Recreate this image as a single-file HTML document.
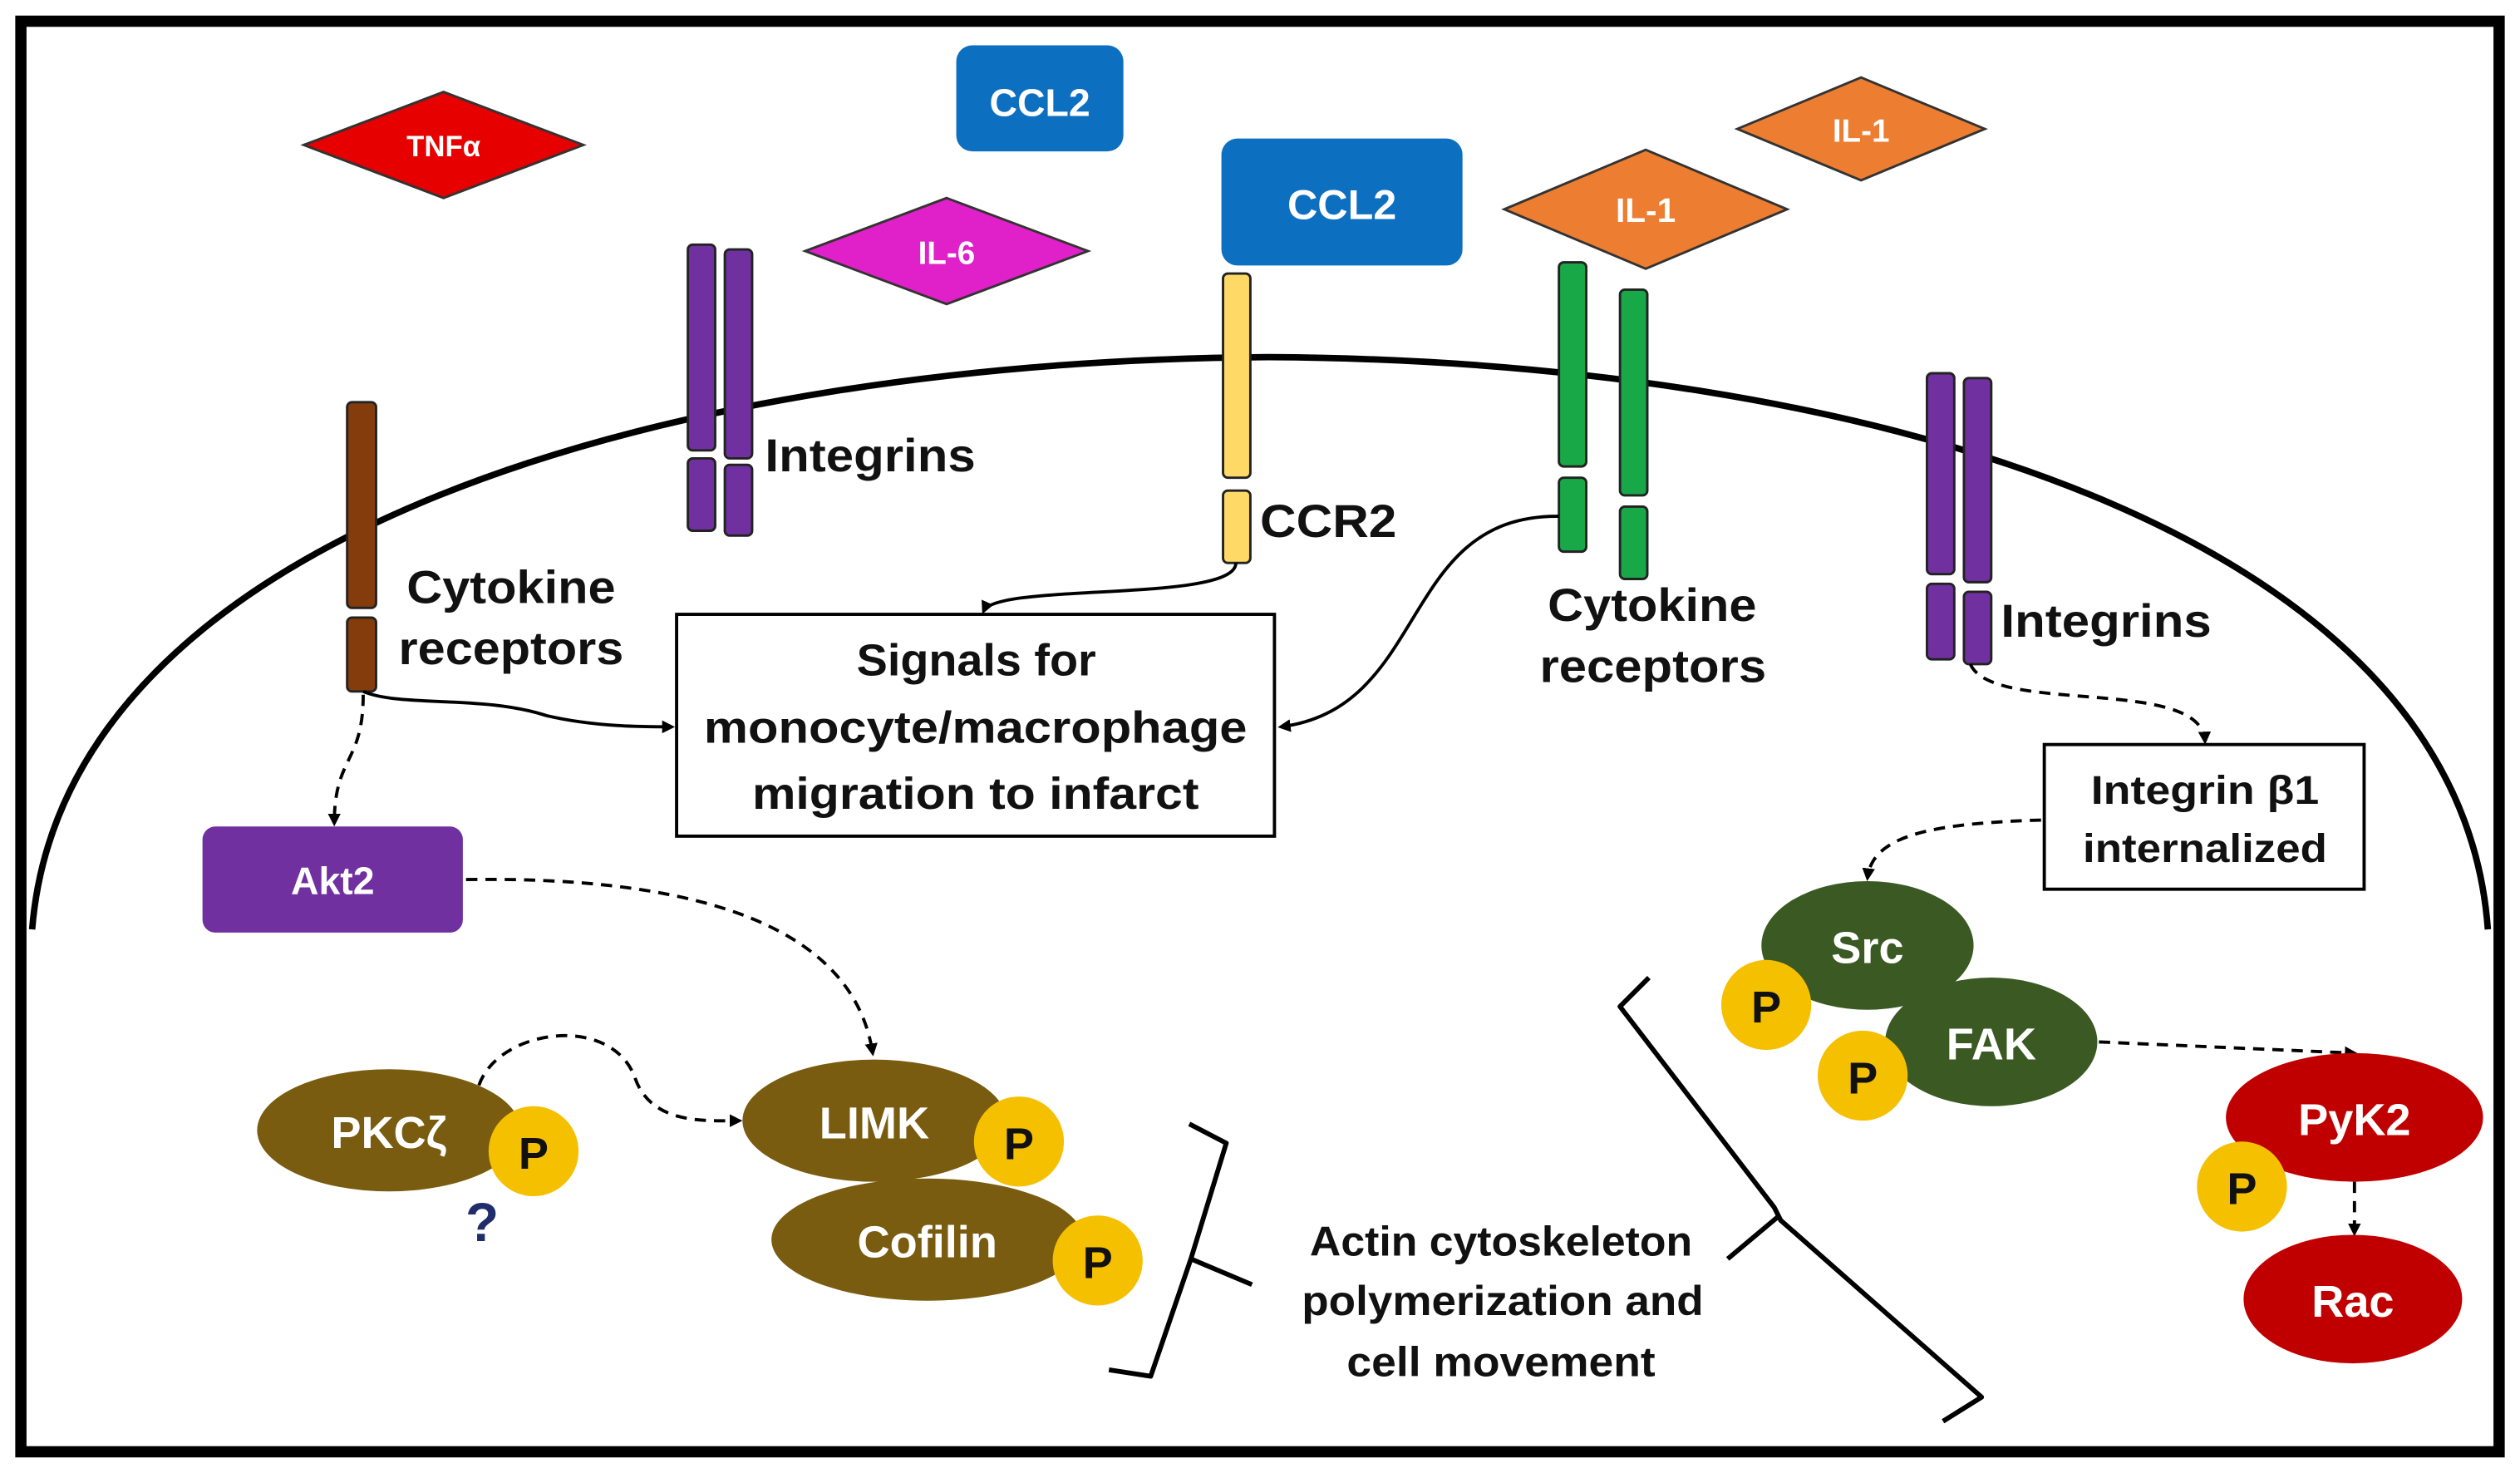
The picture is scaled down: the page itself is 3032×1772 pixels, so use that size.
<!DOCTYPE html>
<html><head><meta charset="utf-8"><style>
html,body{margin:0;padding:0;background:#fff;}
svg{display:block;}
text{font-family:"Liberation Sans",sans-serif;font-weight:bold;}
</style></head><body>
<svg width="3032" height="1772" viewBox="0 0 1568 916" xmlns="http://www.w3.org/2000/svg">
<defs>
<marker id="a" markerWidth="8" markerHeight="8" refX="6" refY="4" orient="auto" markerUnits="userSpaceOnUse"><path d="M0,0 L8,4 L0,8 Z" fill="#000"/></marker>
</defs>
<rect x="0" y="0" width="1568" height="916" fill="#fff"/>
<rect x="13" y="13" width="1542" height="890" fill="none" stroke="#000" stroke-width="7"/>
<path d="M20,578 C40,330 420,224 790,222 C1160,224 1530,330 1548,578" fill="none" stroke="#000" stroke-width="4"/>

<polygon points="189,90 276,57 363,90 276,123" fill="#e60000" stroke="#333" stroke-width="1.5"/>
<text x="276" y="97" font-size="18" fill="#fff" text-anchor="middle">TNFα</text>
<rect x="595" y="28" width="104" height="66" rx="10" fill="#0d6fc0"/>
<text x="647" y="72" font-size="24" fill="#fff" text-anchor="middle">CCL2</text>
<polygon points="501,156 589,123 677,156 589,189" fill="#e020c8" stroke="#333" stroke-width="1.5"/>
<text x="589" y="164" font-size="20" fill="#fff" text-anchor="middle">IL-6</text>
<rect x="760" y="86" width="150" height="79" rx="10" fill="#0d6fc0"/>
<text x="835" y="136" font-size="26" fill="#fff" text-anchor="middle">CCL2</text>
<polygon points="936,130 1024,93 1112,130 1024,167" fill="#ed7d31" stroke="#333" stroke-width="1.5"/>
<text x="1024" y="138" font-size="21" fill="#fff" text-anchor="middle">IL-1</text>
<polygon points="1081,80 1158,48 1235,80 1158,112" fill="#ed7d31" stroke="#333" stroke-width="1.5"/>
<text x="1158" y="88" font-size="20" fill="#fff" text-anchor="middle">IL-1</text>

<g stroke="#222" stroke-width="1.5">
<rect x="428" y="152" width="17" height="128" rx="3" fill="#7030a0"/>
<rect x="428" y="285" width="17" height="45" rx="3" fill="#7030a0"/>
<rect x="451" y="155" width="17" height="130" rx="3" fill="#7030a0"/>
<rect x="451" y="289" width="17" height="44" rx="3" fill="#7030a0"/>
<rect x="216" y="250" width="18" height="128" rx="3" fill="#843c0c"/>
<rect x="216" y="384" width="18" height="46" rx="3" fill="#843c0c"/>
<rect x="761" y="170" width="17" height="127" rx="3" fill="#ffd966"/>
<rect x="761" y="305" width="17" height="45" rx="3" fill="#ffd966"/>
<rect x="970" y="163" width="17" height="127" rx="3" fill="#18a848"/>
<rect x="970" y="297" width="17" height="46" rx="3" fill="#18a848"/>
<rect x="1008" y="180" width="17" height="128" rx="3" fill="#18a848"/>
<rect x="1008" y="315" width="17" height="45" rx="3" fill="#18a848"/>
<rect x="1199" y="232" width="17" height="125" rx="3" fill="#7030a0"/>
<rect x="1199" y="363" width="17" height="47" rx="3" fill="#7030a0"/>
<rect x="1222" y="235" width="17" height="127" rx="3" fill="#7030a0"/>
<rect x="1222" y="368" width="17" height="45" rx="3" fill="#7030a0"/>
</g>

<g font-size="29" fill="#111">
<text x="476" y="293" textLength="131" lengthAdjust="spacingAndGlyphs">Integrins</text>
<text x="784" y="334" textLength="85" lengthAdjust="spacingAndGlyphs">CCR2</text>
<text x="253" y="375" textLength="130" lengthAdjust="spacingAndGlyphs">Cytokine</text>
<text x="248" y="413" textLength="140" lengthAdjust="spacingAndGlyphs">receptors</text>
<text x="963" y="386" textLength="130" lengthAdjust="spacingAndGlyphs">Cytokine</text>
<text x="958" y="424" textLength="141" lengthAdjust="spacingAndGlyphs">receptors</text>
<text x="1245" y="396" textLength="131" lengthAdjust="spacingAndGlyphs">Integrins</text>
</g>

<rect x="421" y="382" width="372" height="138" fill="#fff" stroke="#000" stroke-width="2"/>
<g font-size="28" fill="#111">
<text x="533" y="420" textLength="149" lengthAdjust="spacingAndGlyphs">Signals for</text>
<text x="438" y="462" textLength="338" lengthAdjust="spacingAndGlyphs">monocyte/macrophage</text>
<text x="468" y="503" textLength="278" lengthAdjust="spacingAndGlyphs">migration to infarct</text>
</g>
<rect x="1272" y="463" width="199" height="90" fill="#fff" stroke="#000" stroke-width="2"/>
<g font-size="25" fill="#111">
<text x="1301" y="500" textLength="142" lengthAdjust="spacingAndGlyphs">Integrin β1</text>
<text x="1296" y="536" textLength="152" lengthAdjust="spacingAndGlyphs">internalized</text>
</g>

<rect x="126" y="514" width="162" height="66" rx="8" fill="#7030a0"/>
<text x="207" y="556" font-size="24" fill="#fff" text-anchor="middle">Akt2</text>

<g fill="none" stroke="#000" stroke-width="2">
<path d="M769,350 C769,375 620,362 612,380" marker-end="url(#a)"/>
<path d="M226,430 C250,440 300,432 340,445 C370,452 400,452 418,452" marker-end="url(#a)"/>
<path d="M970,321 C870,320 890,440 797,452" marker-end="url(#a)"/>
</g>
<g fill="none" stroke="#000" stroke-width="2" stroke-dasharray="7,5">
<path d="M226,432 C226,475 208,470 208,512" marker-end="url(#a)"/>
<path d="M290,547 C420,545 530,570 543,655" marker-end="url(#a)"/>
<path d="M298,675 C310,640 380,630 395,670 C405,700 440,697 460,697" marker-end="url(#a)"/>
<path d="M1226,413 C1240,445 1370,420 1372,461" marker-end="url(#a)"/>
<path d="M1270,510 C1200,512 1165,520 1162,546" marker-end="url(#a)"/>
<path d="M1306,648 L1465,655" marker-end="url(#a)"/>
<path d="M1465,735 L1465,767" marker-end="url(#a)"/>
</g>

<ellipse cx="242" cy="703" rx="82" ry="38" fill="#7a5c10"/>
<text x="242" y="714" font-size="28" fill="#fff" text-anchor="middle">PKCζ</text>
<circle cx="332" cy="716" r="28" fill="#f5c000"/>
<text x="332" y="727" font-size="28" fill="#111" text-anchor="middle">P</text>
<text x="300" y="772" font-size="34" fill="#1f2d6b" text-anchor="middle">?</text>
<ellipse cx="544" cy="697" rx="82" ry="38" fill="#7a5c10"/>
<text x="544" y="708" font-size="28" fill="#fff" text-anchor="middle">LIMK</text>
<circle cx="634" cy="710" r="28" fill="#f5c000"/>
<text x="634" y="721" font-size="28" fill="#111" text-anchor="middle">P</text>
<ellipse cx="577" cy="771" rx="97" ry="38" fill="#7a5c10"/>
<text x="577" y="782" font-size="28" fill="#fff" text-anchor="middle">Cofilin</text>
<circle cx="683" cy="784" r="28" fill="#f5c000"/>
<text x="683" y="795" font-size="28" fill="#111" text-anchor="middle">P</text>

<g fill="none" stroke="#000" stroke-width="3" stroke-linejoin="round">
<path d="M740,699 L763,711 L741,783 L716,856 L690,852"/>
<path d="M741,783 L779,799"/>
<path d="M1026,608 L1008,626 L1104,751 L1108,759 L1233,869 L1209,884"/>
<path d="M1106,757 L1075,783"/>
</g>
<g font-size="26" fill="#111">
<text x="815" y="781" textLength="238" lengthAdjust="spacingAndGlyphs">Actin cytoskeleton</text>
<text x="810" y="818" textLength="250" lengthAdjust="spacingAndGlyphs">polymerization and</text>
<text x="838" y="856" textLength="192" lengthAdjust="spacingAndGlyphs">cell movement</text>
</g>

<ellipse cx="1162" cy="588" rx="66" ry="40" fill="#3b5a23"/>
<text x="1162" y="599" font-size="28" fill="#fff" text-anchor="middle">Src</text>
<circle cx="1099" cy="625" r="28" fill="#f5c000"/>
<text x="1099" y="636" font-size="28" fill="#111" text-anchor="middle">P</text>
<ellipse cx="1239" cy="648" rx="66" ry="40" fill="#3b5a23"/>
<text x="1239" y="659" font-size="28" fill="#fff" text-anchor="middle">FAK</text>
<circle cx="1159" cy="669" r="28" fill="#f5c000"/>
<text x="1159" y="680" font-size="28" fill="#111" text-anchor="middle">P</text>
<ellipse cx="1465" cy="695" rx="80" ry="40" fill="#c00000"/>
<text x="1465" y="706" font-size="28" fill="#fff" text-anchor="middle">PyK2</text>
<circle cx="1395" cy="738" r="28" fill="#f5c000"/>
<text x="1395" y="749" font-size="28" fill="#111" text-anchor="middle">P</text>
<ellipse cx="1464" cy="808" rx="68" ry="40" fill="#c00000"/>
<text x="1464" y="819" font-size="28" fill="#fff" text-anchor="middle">Rac</text>
</svg>
</body></html>
